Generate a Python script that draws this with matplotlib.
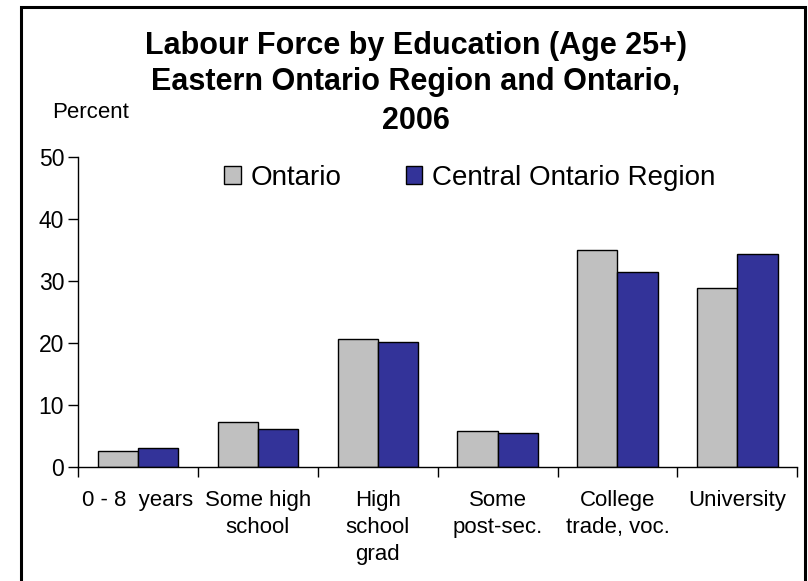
import matplotlib
matplotlib.use("Agg")
import matplotlib.pyplot as plt
import numpy as np
from matplotlib.patches import Patch, Rectangle

categories = ["0 - 8  years", "Some high\nschool", "High\nschool\ngrad",
              "Some\npost-sec.", "College\ntrade, voc.", "University"]
ontario = [2.6, 7.3, 20.6, 5.7, 35.1, 28.8]
central = [3.1, 6.1, 20.2, 5.4, 31.4, 34.4]
series_names = ["Ontario", "Central Ontario Region"]
yticks = [0, 10, 20, 30, 40, 50]

plt.rcParams['font.family'] = ['Liberation Sans', 'DejaVu Sans']

W, H = 808, 581
fig = plt.figure(figsize=(W / 100, H / 100), dpi=100)

# outer frame
fig.add_artist(Rectangle((20.5 / W, -0.05), (805 - 20.5) / W, (H - 7.5) / H + 0.05,
                         transform=fig.transFigure, fill=False, edgecolor='black',
                         linewidth=2.2))

ax = fig.add_axes([78 / W, (H - 466.7) / H, (797.3 - 78) / W, (466.7 - 157.3) / H])
x = np.arange(len(categories))
bw = 0.335
ax.bar(x - bw / 2, ontario, bw, color='#C0C0C0', edgecolor='black', linewidth=1.0,
       label=series_names[0])
ax.bar(x + bw / 2, central, bw, color='#333399', edgecolor='black', linewidth=1.0,
       label=series_names[1])

ax.set_xlim(-0.5, len(categories) - 0.5)
ax.set_ylim(0, 50)
ax.set_yticks(yticks)
ax.tick_params(axis='y', direction='out', length=7, width=1, pad=3, labelsize=16.5)
ax.set_xticks(x)
ax.set_xticklabels(categories, fontsize=16, linespacing=1.35)
ax.set_xticks(np.arange(len(categories) + 1) - 0.5, minor=True)
ax.tick_params(axis='x', which='major', length=0, pad=17)
ax.tick_params(axis='x', which='minor', direction='out', length=7, width=1)
for s in ['top', 'right']:
    ax.spines[s].set_visible(False)
for s in ['left', 'bottom']:
    ax.spines[s].set_linewidth(1.0)

handles = [Patch(facecolor='#C0C0C0', edgecolor='black', linewidth=1.0),
           Patch(facecolor='#333399', edgecolor='black', linewidth=1.0)]
ax.legend(handles, series_names, loc='center left',
          bbox_to_anchor=(205 / W, (H - 178) / H), bbox_transform=fig.transFigure,
          ncol=2, frameon=False, fontsize=20, handlelength=0.6, handleheight=0.6,
          handletextpad=0.35, columnspacing=2.3, borderpad=0.2)

fig.text(416 / W, (H - 46) / H, "Labour Force by Education (Age 25+)", ha='center',
         va='center', fontsize=22, fontweight='bold')
fig.text(416 / W, (H - 82) / H, "Eastern Ontario Region and Ontario,", ha='center',
         va='center', fontsize=22, fontweight='bold')
fig.text(416 / W, (H - 121) / H, "2006", ha='center', va='center', fontsize=22,
         fontweight='bold')
fig.text(52 / W, (H - 113) / H, "Percent", ha='left', va='center', fontsize=16)

fig.savefig("out.png", dpi=100)
